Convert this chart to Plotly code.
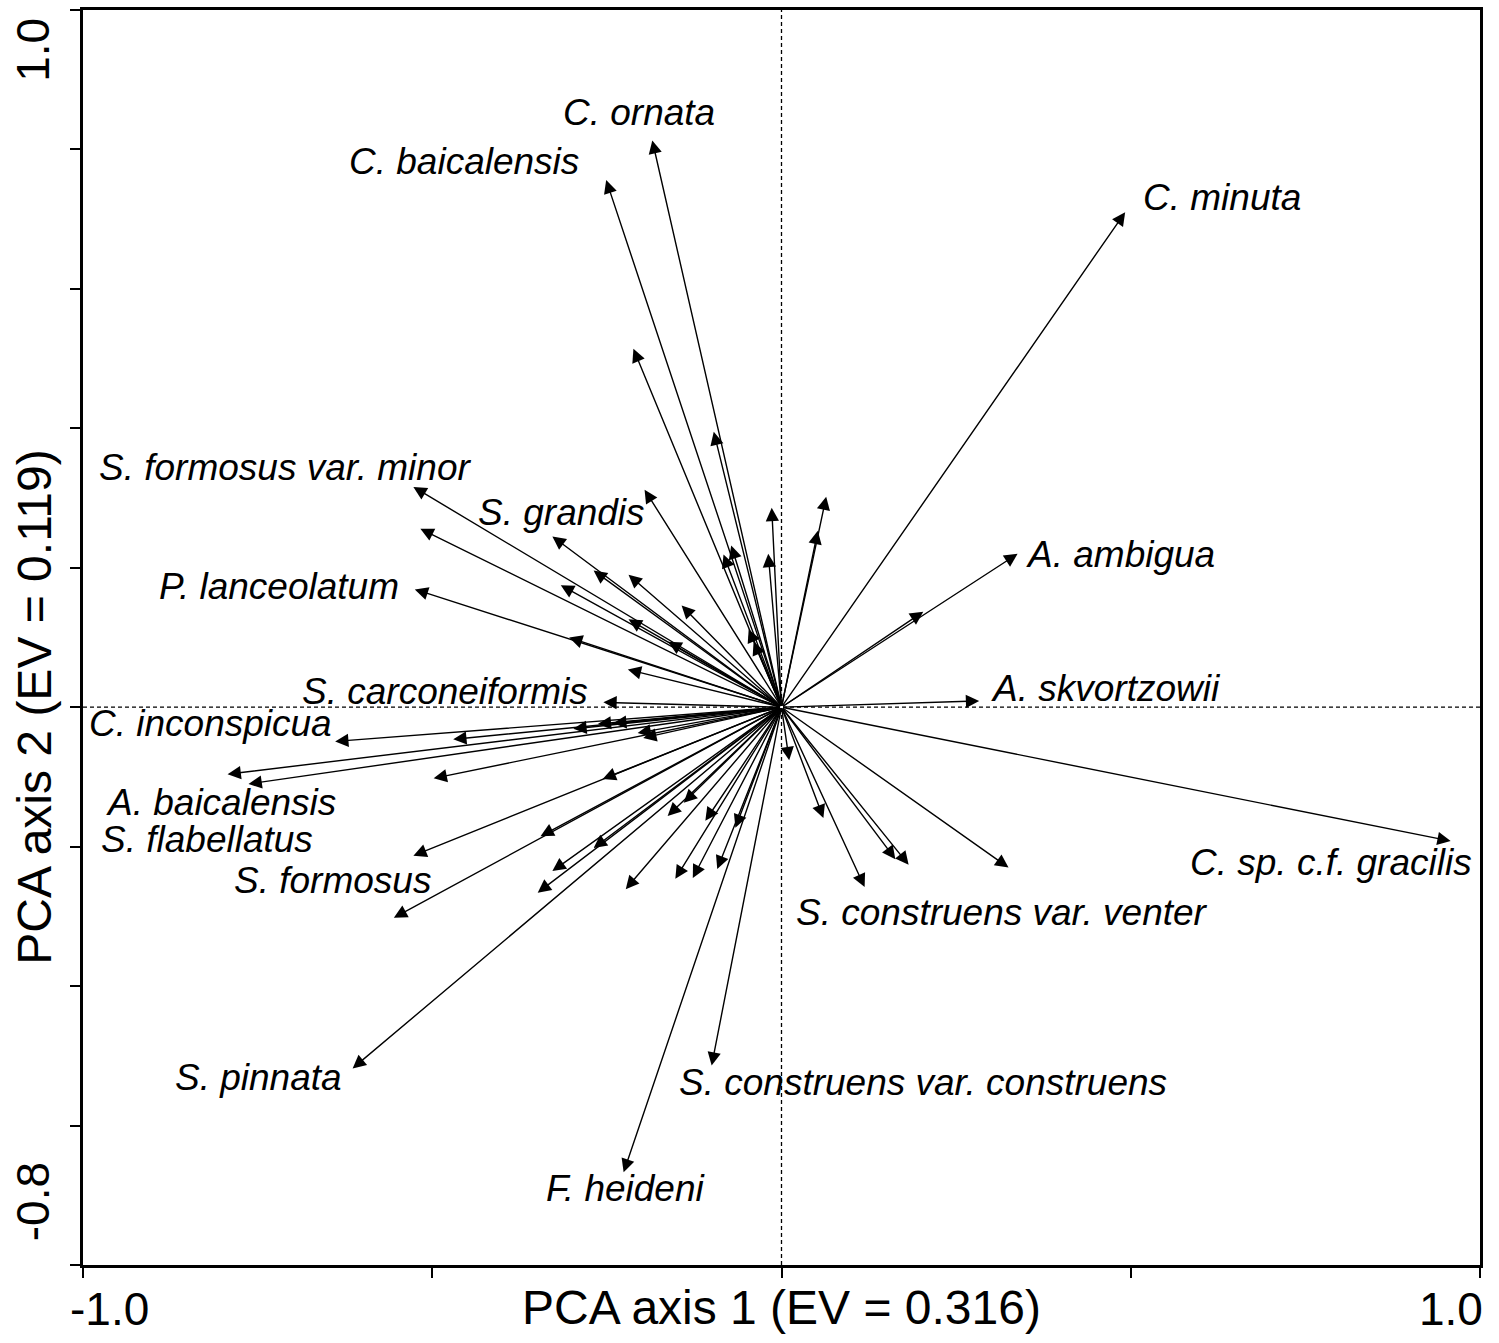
import plotly.graph_objects as go

# species vectors (tips of arrows, PCA axis 1 / axis 2 loadings)
arrow_x = [
    -0.185, -0.251, -0.212, -0.097, 0.064, 0.052, -0.014, -0.019, -0.072, -0.083,
    -0.196, -0.328, -0.527, -0.517, -0.525, -0.269, -0.219, -0.143, -0.316, -0.219,
    -0.162, -0.304, -0.220, -0.255, -0.047, -0.040,
    0.492, 0.338, 0.203, 0.283, 0.958, 0.325, 0.182, 0.163, 0.119, 0.060, 0.011,
    -0.100, -0.226, -0.614, -0.555, -0.527, -0.345, -0.328, -0.269, -0.349, -0.223,
    -0.163, -0.140, -0.152, -0.127, -0.109, -0.092, -0.066,
    -0.639, -0.470, -0.298, -0.263, -0.241, -0.198, -0.206, -0.793, -0.763, -0.498, -0.256,
]
arrow_y = [
    0.813, 0.756, 0.514, 0.395, 0.302, 0.253, 0.286, 0.220, 0.232, 0.219,
    0.312, 0.245, 0.316, 0.256, 0.169, 0.196, 0.190, 0.146, 0.175, 0.126,
    0.094, 0.100, 0.054, 0.007, 0.112, 0.094,
    0.710, 0.220, 0.137, 0.009, -0.192, -0.230, -0.226, -0.218, -0.258, -0.159, -0.076,
    -0.514, -0.667, -0.518, -0.302, -0.213, -0.185, -0.235, -0.202, -0.266, -0.261,
    -0.156, -0.137, -0.246, -0.245, -0.163, -0.232, -0.173,
    -0.049, -0.046, -0.031, -0.024, -0.023, -0.044, -0.037, -0.096, -0.110, -0.102, -0.103,
]

# species names shown on the plot
labels = [
    "C. ornata", "C. baicalensis", "C. minuta", "S. formosus var. minor", "S. grandis",
    "A. ambigua", "P. lanceolatum", "S. carconeiformis", "A. skvortzowii", "C. inconspicua",
    "A. baicalensis", "S. flabellatus", "S. formosus", "C. sp. c.f. gracilis",
    "S. construens var. venter", "S. pinnata", "S. construens var. construens", "F. heideni",
]
label_x = [
    -0.204, -0.455, 0.630, -0.711, -0.315, 0.486, -0.720, -0.482, 0.464, -0.817,
    -0.803, -0.822, -0.643, 0.786, 0.316, -0.749, 0.203, -0.223,
]
label_y = [
    0.853, 0.782, 0.731, 0.344, 0.279, 0.219, 0.173, 0.023, 0.027, -0.023,
    -0.137, -0.189, -0.249, -0.223, -0.295, -0.531, -0.538, -0.690,
]

FONT = "Liberation Sans, Arial, sans-serif"

fig = go.Figure()

annotations = []
for x, y in zip(arrow_x, arrow_y):
    annotations.append(dict(
        x=x, y=y, xref="x", yref="y", ax=0, ay=0, axref="x", ayref="y",
        text="", showarrow=True, arrowhead=2, arrowsize=1.9, arrowwidth=1.4,
        arrowcolor="black", standoff=0, startstandoff=0,
    ))

for name, x, y in zip(labels, label_x, label_y):
    annotations.append(dict(
        x=x, y=y, xref="x", yref="y", text="<i>" + name + "</i>", showarrow=False,
        font=dict(family=FONT, size=37, color="black"),
        xanchor="center", yanchor="middle",
    ))

# axis end labels and titles
annotations += [
    dict(x=-0.962, y=0, xref="x", yref="paper", text="-1.0", showarrow=False,
         yanchor="top", yshift=-16, font=dict(family=FONT, size=46, color="black")),
    dict(x=0.958, y=0, xref="x", yref="paper", text="1.0", showarrow=False,
         yanchor="top", yshift=-16, font=dict(family=FONT, size=46, color="black")),
    dict(x=0.5, y=0, xref="paper", yref="paper", text="PCA axis 1 (EV = 0.316)",
         showarrow=False, yanchor="top", yshift=-14,
         font=dict(family=FONT, size=48, color="black")),
    dict(x=0, y=0.943, xref="paper", yref="y", text="1.0", showarrow=False,
         textangle=-90, xanchor="right", xshift=-22,
         font=dict(family=FONT, size=46, color="black")),
    dict(x=0, y=-0.71, xref="paper", yref="y", text="-0.8", showarrow=False,
         textangle=-90, xanchor="right", xshift=-22,
         font=dict(family=FONT, size=46, color="black")),
    dict(x=0, y=0.0, xref="paper", yref="y", text="PCA axis 2 (EV = 0.119)",
         showarrow=False, textangle=-90, xanchor="right", xshift=-20,
         font=dict(family=FONT, size=48, color="black")),
]

shapes = [
    dict(type="line", xref="x", yref="y", x0=0, x1=0, y0=-0.8, y1=1.0,
         line=dict(color="black", width=1.3, dash="4px,3px")),
    dict(type="line", xref="x", yref="y", x0=-1, x1=1, y0=0, y1=0,
         line=dict(color="black", width=1.3, dash="4px,3px")),
]

fig.update_layout(
    width=1499, height=1343,
    margin=dict(l=83, r=19, t=7, b=78),
    paper_bgcolor="white", plot_bgcolor="white",
    showlegend=False,
    annotations=annotations, shapes=shapes,
    xaxis=dict(
        range=[-1, 1], tickvals=[-1, -0.5, 0, 0.5, 1], ticktext=[""] * 5,
        ticks="outside", ticklen=10, tickwidth=2, tickcolor="black",
        showline=True, linewidth=3, linecolor="black", mirror=True,
        showgrid=False, zeroline=False,
    ),
    yaxis=dict(
        range=[-0.8, 1.0],
        tickvals=[-0.8, -0.6, -0.4, -0.2, 0, 0.2, 0.4, 0.6, 0.8, 1.0], ticktext=[""] * 10,
        ticks="outside", ticklen=10, tickwidth=2, tickcolor="black",
        showline=True, linewidth=3, linecolor="black", mirror=True,
        showgrid=False, zeroline=False,
    ),
)

fig.write_html("out.html", config={"displayModeBar": False},
               post_script="document.body.style.margin='0';")
